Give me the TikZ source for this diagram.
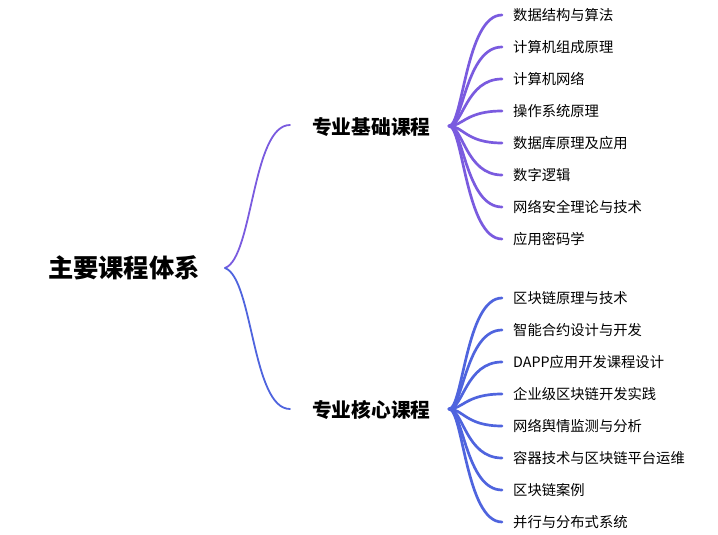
\documentclass[tikz,border=0pt]{standalone}
\usepackage{fontspec}
\setmainfont{Noto Sans CJK SC}
\usetikzlibrary{positioning}
\definecolor{basiccol}{HTML}{7A5BDF}
\definecolor{corecol}{HTML}{4F64DE}

\begin{document}
\begin{tikzpicture}[x=1pt, y=-1pt,
	leaf/.style={inner sep=0pt, font=\fontsize{14.3}{16}\selectfont},
	head/.style={anchor=west, inner sep=0pt, font=\fontsize{19.7}{22}\selectfont\bfseries},
	branch/.style={line width=2.7pt, line cap=round},
	trunk/.style={line width=1.8pt, line cap=round}]
	\useasboundingbox (0,0) rectangle (718,535);
	% root and the two main branches
	\node[anchor=east, inner sep=0pt, font=\fontsize{25.3}{28}\selectfont\bfseries] (root) at (200,268) {主要课程体系};
	\coordinate (R) at (225,268);
	\coordinate (A) at (290,125);
	\coordinate (B) at (290,409);
	\draw[trunk, basiccol] (R) .. controls +(28,-10) and +(-38,0) .. (A);
	\draw[trunk, corecol] (R) .. controls +(28,10) and +(-38,0) .. (B);
	\node[head] (basic) at (312,127) {专业基础课程};
	\node[head] (core) at (312,410) {专业核心课程};
	% upper fan
	\coordinate (U) at (449,126);
	\foreach \name [count=\i] in {数据结构与算法, 计算机组成原理, 计算机网络, 操作系统原理, 数据库原理及应用, 数字逻辑, 网络安全理论与技术, 应用密码学}
	{
		\coordinate (u\i) at (502, {15+32*(\i-1)});
		\draw[branch, basiccol] (U) .. controls +(14,0) and +(-36,0) .. (u\i);
		\node[leaf, right=11pt of u\i] (ut\i) {\name};
	}
	% lower fan
	\coordinate (L) at (449,409);
	\foreach \name [count=\i] in {区块链原理与技术, 智能合约设计与开发, DAPP应用开发课程设计, 企业级区块链开发实践, 网络舆情监测与分析, 容器技术与区块链平台运维, 区块链案例, 并行与分布式系统}
	{
		\coordinate (l\i) at (502, {298+32*(\i-1)});
		\draw[branch, corecol] (L) .. controls +(14,0) and +(-36,0) .. (l\i);
		\node[leaf, right=11pt of l\i] (lt\i) {\name};
	}
\end{tikzpicture}
\end{document}
